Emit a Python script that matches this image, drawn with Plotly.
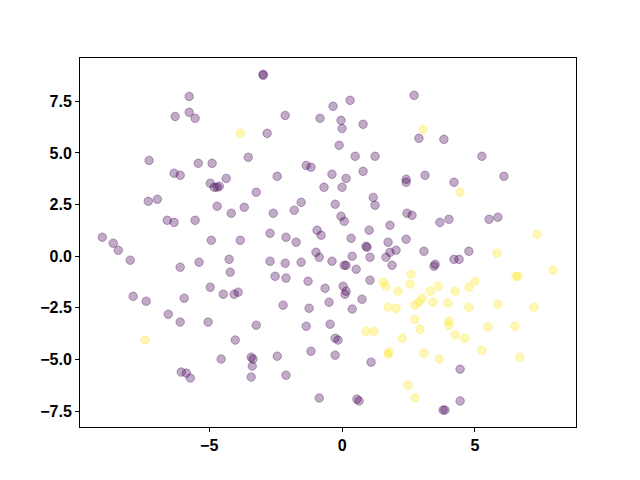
import plotly.graph_objects as go

# class 0 points (purple)
x0 = [-2.97, -2.97, -5.75, -6.28, -5.75, -5.53, 0.30, -0.34, -2.14, -0.83,
      -0.04, 0.00, 0.79, -2.82, -0.11, 2.71, 2.89, 3.83, -7.26, -5.41,
      -4.89, -3.53, -6.32, -6.09, -4.96, -4.81, -4.70, -4.62, -4.36, -7.29,
      -6.95, -4.70, -4.17, -3.68, -6.58, -6.32, -5.53, -9.02, -8.61, -8.42,
      -4.92, -3.83, 0.49, 1.24, -1.35, -1.17, -2.44, -0.38, 0.15, 0.79,
      2.41, 2.41, -3.23, -0.68, 0.00, -1.54, 1.17, 1.24, -2.59, -1.80,
      -0.26, -0.04, 0.08, 2.44, 2.63, 1.80, -2.71, -2.11, -1.73, -0.94,
      -0.79, 0.34, 1.02, 0.90, 1.73, 2.41, 5.26, 3.12, 4.21, 6.09,
      3.68, 4.02, 5.53, 5.86, -7.97, -6.09, -5.38, -4.25, -4.21, -4.96,
      -4.47, -4.06, -3.91, -7.86, -7.37, -5.94, -6.54, -6.09, -5.04, -4.02,
      -0.98, -0.86, -2.71, -2.14, -1.54, -0.38, 0.38, 0.08, 0.15, 0.53,
      0.94, 1.05, 1.65, 1.80, 2.03, 1.88, -2.52, -2.11, -1.28, -0.64,
      0.04, 0.15, 0.11, 1.05, 0.75, -0.49, -2.22, -1.24, 0.38, -3.23,
      -1.35, -0.45, -0.26, -0.15, 3.08, 4.77, 3.50, 3.46, 4.21, 4.40,
      -4.55, -6.05, -5.86, -5.71, -3.42, -3.35, -3.38, -3.42, -2.44, -2.11,
      -1.17, -0.26, 1.09, -0.86, 0.56, 0.64, 4.44, 4.44, 3.80, 3.87]
y0 = [8.81, 8.76, 7.74, 6.77, 6.97, 6.68, 7.55, 7.26, 6.82, 6.68,
      6.58, 6.19, 6.39, 5.95, 5.37, 7.79, 5.71, 5.66, 4.64, 4.50,
      4.50, 4.79, 4.02, 3.92, 3.53, 3.34, 3.34, 3.39, 3.77, 2.66,
      2.76, 2.42, 2.08, 2.37, 1.74, 1.64, 1.74, 0.92, 0.63, 0.29,
      0.77, 0.77, 4.84, 4.84, 4.40, 4.31, 3.87, 3.97, 3.77, 4.11,
      3.73, 3.58, 3.10, 3.34, 3.34, 2.61, 2.85, 2.47, 2.08, 2.23,
      2.52, 1.94, 1.69, 2.08, 1.98, 1.50, 1.11, 0.92, 0.68, 1.26,
      1.02, 0.87, 1.26, 0.48, 0.68, 0.82, 4.84, 3.92, 3.58, 3.87,
      1.64, 1.79, 1.79, 1.89, -0.19, -0.53, -0.29, -0.15, -0.77, -1.50,
      -1.84, -1.84, -1.74, -1.94, -2.18, -2.03, -2.81, -3.19, -3.19, -4.06,
      0.19, -0.05, -0.24, -0.34, -0.29, -0.24, 0.00, -0.44, -0.44, -0.63,
      0.44, -0.05, -0.05, 0.19, 0.29, -0.44, -0.97, -1.06, -1.21, -1.55,
      -1.45, -1.69, -1.84, -1.16, -2.08, -2.23, -2.37, -2.52, -2.56, -3.34,
      -3.39, -3.29, -3.97, -4.06, 0.24, 0.24, -0.39, -0.48, -0.15, -0.15,
      -4.98, -5.61, -5.66, -5.90, -4.89, -4.98, -5.32, -5.85, -4.84, -5.76,
      -4.60, -4.79, -5.13, -6.87, -6.92, -7.01, -5.47, -7.01, -7.45, -7.45]

# class 1 points (yellow)
x1 = [-3.83, 3.05, 4.44, 7.33, -7.41, 1.54, 1.65, 2.11, 2.59, 2.56,
      1.73, 2.03, 2.74, 2.74, 0.90, 1.20, 2.26, 5.83, 6.54, 6.62,
      7.93, 5.00, 4.77, 4.25, 3.61, 3.31, 3.01, 2.89, 3.42, 3.98,
      4.77, 5.86, 7.22, 4.02, 4.02, 2.93, 5.49, 6.50, 4.25, 4.62,
      1.77, 1.73, 2.48, 2.74, 3.08, 3.65, 5.26, 6.69]
y1 = [5.95, 6.14, 3.10, 1.06, -4.06, -1.26, -1.45, -1.69, -0.87, -1.35,
      -2.47, -2.52, -2.37, -3.05, -3.63, -3.63, -3.97, 0.15, -0.97, -0.97,
      -0.68, -1.21, -1.50, -1.69, -1.45, -1.69, -2.03, -2.23, -2.23, -2.27,
      -2.47, -2.32, -2.47, -3.14, -3.34, -3.53, -3.43, -3.39, -3.82, -3.97,
      -4.64, -4.74, -6.24, -6.87, -4.69, -4.98, -4.55, -4.89]

X_TICKS = [-5, 0, 5]
X_TICKTEXT = ['\u22125', '0', '5']
Y_TICKS = [-7.5, -5.0, -2.5, 0.0, 2.5, 5.0, 7.5]
Y_TICKTEXT = ['\u22127.5', '\u22125.0', '\u22122.5', '0.0', '2.5', '5.0', '7.5']

PURPLE = 'rgba(68, 1, 84, 0.33)'
YELLOW = 'rgba(253, 231, 37, 0.33)'

fig = go.Figure()
for xs, ys, col in [(x0, y0, PURPLE), (x1, y1, YELLOW)]:
    fig.add_trace(go.Scatter(
        x=xs, y=ys, mode='markers',
        marker=dict(size=8.5, color=col, line=dict(width=1, color=col)),
        showlegend=False,
    ))

tick_font = dict(family='Liberation Sans, Arial, sans-serif', size=16,
                 color='black', weight='bold')
axis_common = dict(showgrid=False, zeroline=False, showline=True,
                   linecolor='black', linewidth=1, mirror=True,
                   ticks='outside', ticklen=4, tickwidth=1, tickcolor='black',
                   tickfont=tick_font)

fig.update_xaxes(range=[-9.86, 8.80], tickvals=X_TICKS, ticktext=X_TICKTEXT,
                 **axis_common)
fig.update_yaxes(range=[-8.27, 9.60], tickvals=Y_TICKS, ticktext=Y_TICKTEXT,
                 **axis_common)

# page body has an 8px margin, so shift the plot area back up/left
fig.update_layout(
    width=640, height=480,
    margin=dict(l=72, r=72, t=50, b=61),
    plot_bgcolor='white', paper_bgcolor='white',
)

fig.write_html("out.html")
